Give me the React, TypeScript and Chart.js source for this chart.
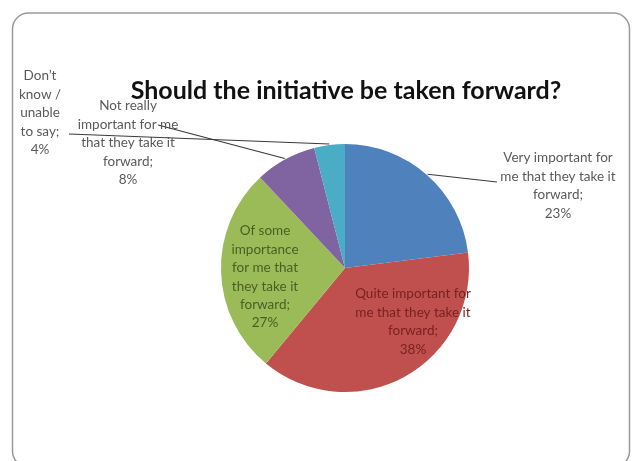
import React, { useEffect, useRef } from 'react';
import { Chart, registerables } from 'chart.js';

Chart.register(...registerables);

const title = 'Should the initiative be taken forward?';

const categories = [
  'Very important for me that they take it forward',
  'Quite important for me that they take it forward',
  'Of some importance for me that they take it forward',
  'Not really important for me that they take it forward',
  'Don\u2019t know / unable to say',
];

const values = [23, 38, 27, 8, 4];

const sliceColors = ['#4F81BD', '#C0504D', '#9BBB59', '#8064A2', '#4BACC6'];

// wrapped label text as shown on the chart (last line = value)
const labelLines = [
  ['Very important for', 'me that they take it', 'forward;'],
  ['Quite important for', 'me that they take it', 'forward;'],
  ['Of some', 'importance', 'for me that', 'they take it', 'forward;'],
  ['Not really', 'important for me', 'that they take it', 'forward;'],
  ['Don\u2019t', 'know /', 'unable', 'to say;'],
];

// layout of labels (text block centre x, first line y, colour, leader anchor)
const labelLayout = [
  { x: 558, y: 158, color: '#5a5a5a', leader: { x: 497, y: 182 } },
  { x: 413, y: 294, color: '#7a2220', leader: null },
  { x: 265, y: 231, color: '#4b5f22', leader: null },
  { x: 128, y: 106, color: '#5a5a5a', leader: { x: 158, y: 125 } },
  { x: 40, y: 76, color: '#5a5a5a', leader: { x: 69, y: 134 } },
];

const LINE_H = 18.4;
const LABEL_FONT = '13.5px Lato, "Open Sans", sans-serif';

const overlayPlugin = {
  id: 'overlay',
  afterDraw(chart: any) {
    const ctx = chart.ctx as CanvasRenderingContext2D;
    ctx.save();
    // frame
    ctx.strokeStyle = '#9a9a9a';
    ctx.lineWidth = 1.5;
    ctx.beginPath();
    (ctx as any).roundRect(12.5, 13, 617, 454, 16);
    ctx.stroke();

    // title
    ctx.fillStyle = '#111';
    ctx.font = 'bold 25px Lato, "Open Sans", sans-serif';
    ctx.textAlign = 'center';
    ctx.textBaseline = 'middle';
    ctx.fillText(title, 346, 91);

    const meta = chart.getDatasetMeta(0);
    const total = values.reduce((a, b) => a + b, 0);
    meta.data.forEach((arc: any, i: number) => {
      const p = arc.getProps(['x', 'y', 'startAngle', 'endAngle', 'outerRadius'], true);
      const mid = (p.startAngle + p.endAngle) / 2;
      const lay = labelLayout[i];
      if (lay.leader) {
        const ex = p.x + Math.cos(mid) * (p.outerRadius + 1);
        const ey = p.y + Math.sin(mid) * (p.outerRadius + 1);
        ctx.strokeStyle = '#3a3a3a';
        ctx.lineWidth = 1.2;
        ctx.beginPath();
        ctx.moveTo(lay.leader.x, lay.leader.y);
        ctx.lineTo(ex, ey);
        ctx.stroke();
      }
      const lines = [...labelLines[i], Math.round((values[i] / total) * 100) + '%'];
      ctx.fillStyle = lay.color;
      ctx.font = LABEL_FONT;
      ctx.textAlign = 'center';
      ctx.textBaseline = 'middle';
      lines.forEach((t, k) => ctx.fillText(t, lay.x, lay.y + k * LINE_H));
    });
    ctx.restore();
  },
};

export default function App() {
  const ref = useRef<HTMLCanvasElement | null>(null);
  useEffect(() => {
    if (!ref.current) return;
    const chart = new Chart(ref.current, {
      type: 'pie',
      data: {
        labels: categories,
        datasets: [
          {
            data: values,
            backgroundColor: sliceColors,
            borderWidth: 0,
          },
        ],
      },
      options: {
        animation: false,
        responsive: false,
        devicePixelRatio: 1,
        layout: { padding: { left: 221, right: 163, top: 144, bottom: 69 } },
        plugins: {
          legend: { display: false },
          title: { display: false },
          tooltip: { enabled: false },
        },
      },
      plugins: [overlayPlugin],
    });
    return () => chart.destroy();
  }, []);
  return (
    <div style={{ position: 'fixed', left: 0, top: 0, width: 632, height: 461, background: '#fff' }}>
      <canvas ref={ref} width={632} height={461} style={{ display: 'block' }} />
    </div>
  );
}
